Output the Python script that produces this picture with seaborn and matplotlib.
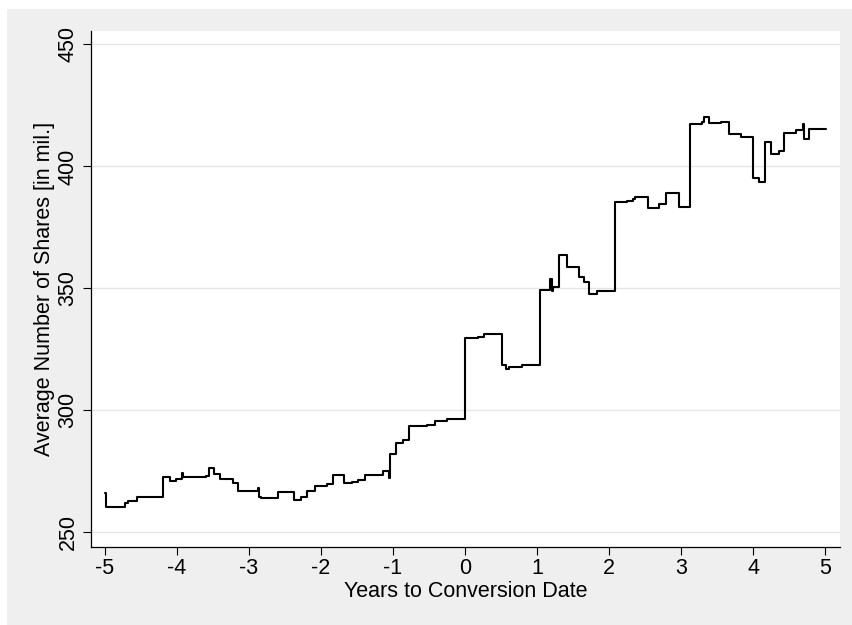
import matplotlib
matplotlib.use("Agg")
import matplotlib.pyplot as plt
import seaborn as sns
import pandas as pd
from matplotlib.patches import Rectangle

# Event time (years relative to conversion) and average shares outstanding (millions)
years = [
    -5.00, -4.98, -4.72, -4.68, -4.55, -4.19, -4.10, -4.01, -3.93, -3.91,
    -3.59, -3.56, -3.48, -3.40, -3.22, -3.15, -2.88, -2.86, -2.84, -2.60,
    -2.40, -2.37, -2.28, -2.20, -2.09, -1.92, -1.83, -1.68, -1.57, -1.48,
    -1.385, -1.135, -1.06, -1.04, -0.96, -0.857, -0.78, -0.532, -0.417, -0.255,
    0.00, 0.185, 0.264, 0.518, 0.565, 0.615, 0.787, 1.04, 1.18, 1.21,
    1.226, 1.30, 1.41, 1.58, 1.657, 1.718, 1.83, 2.088, 2.245, 2.34,
    2.36, 2.54, 2.69, 2.79, 2.97, 3.125, 3.29, 3.32, 3.39, 3.56,
    3.67, 3.83, 4.00, 4.08, 4.17, 4.25, 4.36, 4.435, 4.60, 4.69,
    4.71, 4.78, 5.01,
]
shares = [
    266.0, 260.3, 262.0, 263.0, 264.5, 272.5, 271.1, 272.0, 274.5, 272.5,
    273.2, 276.2, 273.9, 271.9, 270.2, 267.0, 268.1, 264.3, 264.0, 266.5,
    266.5, 263.2, 264.5, 267.0, 269.2, 269.9, 273.7, 270.2, 270.5, 271.5,
    273.6, 275.2, 272.2, 282.2, 286.7, 287.8, 293.4, 294.1, 295.5, 296.6,
    329.5, 330.2, 331.1, 318.4, 317.0, 317.8, 318.4, 349.3, 354.0, 348.8,
    350.6, 363.7, 358.8, 354.8, 352.6, 347.8, 348.8, 385.5, 385.9, 386.6,
    387.6, 382.9, 384.6, 389.0, 383.5, 417.4, 418.1, 420.4, 417.7, 418.1,
    413.1, 412.2, 395.3, 393.5, 410.0, 405.2, 406.5, 413.5, 414.8, 417.4,
    411.2, 415.3, 415.3,
]

x_ticks = [-5, -4, -3, -2, -1, 0, 1, 2, 3, 4, 5]
y_ticks = [250, 300, 350, 400, 450]

df = pd.DataFrame({"years": years, "shares": shares})

sns.set_theme(style="white")
plt.rcParams["font.family"] = ["Liberation Sans", "DejaVu Sans"]

fig = plt.figure(figsize=(8.53, 6.25), dpi=100, facecolor="white")
# light grey graph region behind the plot area
fig.patches.append(Rectangle((7 / 853, 0), 1.0, (625 - 9) / 625,
                             transform=fig.transFigure, facecolor="#EFEFEF",
                             edgecolor="none", zorder=-10))

ax = fig.add_axes([91 / 853, (625 - 546.5) / 625, (840 - 91) / 853, (546.5 - 31) / 625])
ax.set_zorder(1)
ax.set_facecolor("white")

sns.lineplot(data=df, x="years", y="shares", ax=ax, color="black",
             linewidth=1.5, drawstyle="steps-post", zorder=3)

ax.set_xlim(-5.194, 5.208)
ax.set_ylim(244.2, 455.5)
ax.set_xticks(x_ticks)
ax.set_xticklabels([str(t) for t in x_ticks])
ax.set_yticks(y_ticks)
ax.set_yticklabels([str(t) for t in y_ticks], rotation=90, va="center")

ax.grid(axis="y", color="#E6E6E6", linewidth=1.0)
ax.grid(axis="x", visible=False)
ax.set_axisbelow(True)

for side in ["top", "right"]:
    ax.spines[side].set_visible(False)
for side in ["left", "bottom"]:
    ax.spines[side].set_color("black")
    ax.spines[side].set_linewidth(0.9)

ax.tick_params(axis="both", which="major", direction="out", length=6, width=0.8,
               color="black", labelsize=15.5, labelcolor="black",
               bottom=True, left=True)
ax.tick_params(axis="x", pad=2.5)
ax.tick_params(axis="y", pad=3)

ax.set_xlabel("Years to Conversion Date", fontsize=15.5, color="black", labelpad=1)
ax.set_ylabel("Average Number of Shares [in mil.]", fontsize=15.5, color="black", labelpad=2)

fig.savefig("out.png", dpi=100, facecolor=fig.get_facecolor())
